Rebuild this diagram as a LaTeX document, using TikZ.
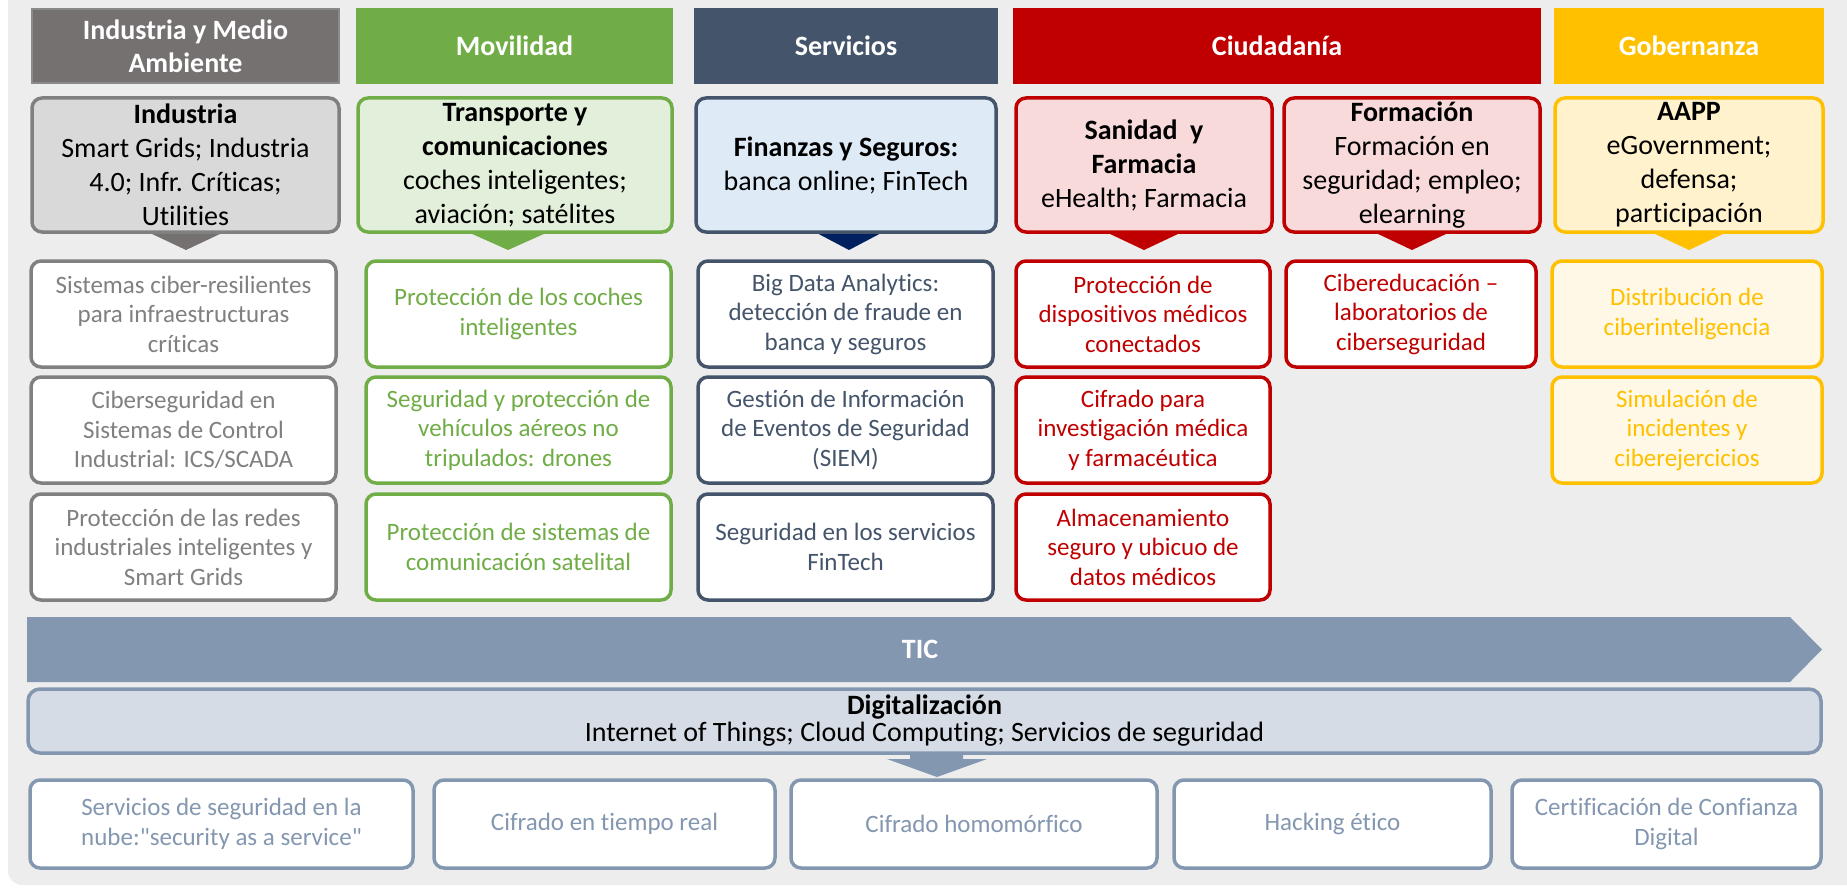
\documentclass[tikz,border=0pt]{standalone}
\usepackage{fontspec}
\setmainfont{Carlito}[Ligatures={TeXOff,CommonOff}]
\usetikzlibrary{calc}
\definecolor{bgc}{HTML}{EDEDED}
\definecolor{grayH}{HTML}{767171}
\definecolor{grayHb}{HTML}{8A8A8A}
\definecolor{grayC}{HTML}{D9D9D9}
\definecolor{grayL}{HTML}{808080}
\definecolor{greenH}{HTML}{70AD47}
\definecolor{greenC}{HTML}{E2EFDA}
\definecolor{blueH}{HTML}{44546A}
\definecolor{blueC}{HTML}{DEEBF7}
\definecolor{navyT}{HTML}{002060}
\definecolor{redH}{HTML}{C00000}
\definecolor{redC}{HTML}{F8DADA}
\definecolor{yelH}{HTML}{FFC000}
\definecolor{yelC}{HTML}{FFF2CC}
\definecolor{yelI}{HTML}{FFF8E6}
\definecolor{ticC}{HTML}{8497B0}
\definecolor{digiC}{HTML}{D6DCE5}
\newcommand\fhead{\fontsize{28}{33}\selectfont\bfseries}
\newcommand\fcat{\fontsize{28}{34}\selectfont}
\newcommand\fitem{\fontsize{25}{29.5}\selectfont}
\newcommand\fdig{\fontsize{28}{27}\selectfont}
\tikzset{
  hdr/.style 2 args={draw=#1, fill=#2, line width=2pt, text=white, font=\fhead,
    align=center, inner sep=0pt, minimum height=74pt},
  cat/.style 2 args={draw=#1, fill=#2, line width=3.5pt, rounded corners=10pt,
    font=\fcat, align=center, inner sep=0pt, minimum height=134pt},
  itm/.style 2 args={draw=#1, fill=#2, text=#1, line width=3.5pt, rounded corners=10pt,
    font=\fitem, align=center, inner sep=0pt, minimum height=106pt},
  bot/.style={draw=ticC, fill=white, text=ticC, line width=3.5pt, rounded corners=10pt,
    font=\fitem, align=center, inner sep=0pt, minimum height=88pt},
}
% pointer: #1 colour, #2 coordinate at box bottom, #3 visible half-width at box bottom
\newcommand\pointer[3]{\fill[#1] ($(#2)+({-1.45*#3},-8)$) -- ($(#2)+({1.45*#3},-8)$) -- ($(#2)+(0,18)$) -- cycle;}
\begin{document}
\begin{tikzpicture}[x=1pt,y=-1pt]
\useasboundingbox (0,0) rectangle (1847,888);
\fill[bgc, rounded corners=14pt] (8,-20) rectangle (1870,885);

% headers
\node[hdr={grayHb}{grayH}, minimum width=307pt] (h1) at (185.5,46) {Industria y Medio\\Ambiente};
\node[hdr={greenH}{greenH}, minimum width=315pt] (h2) at (514.5,46) {Movilidad};
\node[hdr={blueH}{blueH}, minimum width=302pt] (h3) at (846,46) {Servicios};
\node[hdr={redH}{redH}, minimum width=526pt] (h4) at (1277,46) {Ciudadanía};
\node[hdr={yelH}{yelH}, minimum width=268pt] (h5) at (1689,46) {Gobernanza};

% category boxes (pointers first)
\coordinate (p1) at (186,232);
\coordinate (p2) at (508,232);
\coordinate (p3) at (849,232);
\coordinate (p4) at (1144,232);
\coordinate (p5) at (1412,232);
\coordinate (p6) at (1689,232);
\pointer{grayH}{p1}{38}
\pointer{greenH}{p2}{40}
\pointer{navyT}{p3}{34}
\pointer{redH}{p4}{38}
\pointer{redH}{p5}{38}
\pointer{yelH}{p6}{38}

\node[cat={grayL}{grayC}, minimum width=307pt] (c1) at (185.5,165)
  {\textbf{Industria}\\Smart Grids; Industria\\4.0; Infr. Críticas;\\Utilities};
\node[cat={greenH}{greenC}, minimum width=314pt] (c2) at (515,165)
  {\textbf{Transporte y}\\\textbf{comunicaciones}\\coches inteligentes;\\aviación; satélites};
\node[cat={blueH}{blueC}, minimum width=300pt] (c3) at (846,165)
  {\textbf{Finanzas y Seguros:}\\banca online; FinTech};
\node[cat={redH}{redC}, minimum width=256pt] (c4) at (1144,165)
  {\textbf{Sanidad\ \ y}\\\textbf{Farmacia}\\eHealth; Farmacia};
\node[cat={redH}{redC}, minimum width=256pt] (c5) at (1412,165)
  {\textbf{Formación}\\Formación en\\seguridad; empleo;\\elearning};
\node[cat={yelH}{yelC}, minimum width=268pt] (c6) at (1689,165)
  {\textbf{AAPP}\\eGovernment;\\defensa;\\participación};

% items column 1
\node[itm={grayL}{white}, minimum width=305pt] (i11) at (183.5,314) {Sistemas ciber-resilientes\\para infraestructuras\\críticas};
\node[itm={grayL}{white}, minimum width=305pt] (i12) at (183.5,430) {Ciberseguridad en\\Sistemas de Control\\Industrial: ICS/SCADA};
\node[itm={grayL}{white}, minimum width=305pt] (i13) at (183.5,547) {Protección de las redes\\industriales inteligentes y\\Smart Grids};
% column 2
\node[itm={greenH}{white}, minimum width=305pt] (i21) at (518.5,314) {Protección de los coches\\inteligentes};
\node[itm={greenH}{white}, minimum width=305pt] (i22) at (518.5,430) {Seguridad y protección de\\vehículos aéreos no\\tripulados: drones};
\node[itm={greenH}{white}, minimum width=305pt] (i23) at (518.5,547) {Protección de sistemas de\\comunicación satelital};
% column 3
\node[itm={blueH}{white}, minimum width=295pt] (i31) at (845.5,314) {Big Data Analytics:\\detección de fraude en\\banca y seguros};
\node[itm={blueH}{white}, minimum width=295pt] (i32) at (845.5,430) {Gestión de Información\\de Eventos de Seguridad\\(SIEM)};
\node[itm={blueH}{white}, minimum width=295pt] (i33) at (845.5,547) {Seguridad en los servicios\\FinTech};
% column 4
\node[itm={redH}{white}, minimum width=254pt] (i41) at (1143,314) {Protección de\\dispositivos médicos\\conectados};
\node[itm={redH}{white}, minimum width=254pt] (i42) at (1143,430) {Cifrado para\\investigación médica\\y farmacéutica};
\node[itm={redH}{white}, minimum width=254pt] (i43) at (1143,547) {Almacenamiento\\seguro y ubicuo de\\datos médicos};
% column 5
\node[itm={redH}{white}, minimum width=250pt] (i51) at (1411,314) {Cibereducación –\\laboratorios de\\ciberseguridad};
% column 6
\node[itm={yelH}{yelI}, minimum width=270pt] (i61) at (1687,314) {Distribución de\\ciberinteligencia};
\node[itm={yelH}{yelI}, minimum width=270pt] (i62) at (1687,430) {Simulación de\\incidentes y\\ciberejercicios};

% TIC arrow
\fill[ticC] (27,617) -- (1790,617) -- (1822,649.5) -- (1790,682) -- (27,682) -- cycle;
\node[font=\fhead, text=white] (tic) at (920,649.5) {TIC};

% down arrow below Digitalizacion
\fill[ticC] (910,745) -- (963,745) -- (963,759) -- (987,759) -- (937,777) -- (887,759) -- (910,759) -- cycle;
\node[draw=ticC, fill=digiC, line width=3.5pt, rounded corners=12pt, minimum width=1793pt,
  minimum height=64pt, inner sep=0pt, align=center, font=\fdig] (dig) at (924.5,721)
  {\textbf{Digitalización}\\Internet of Things; Cloud Computing; Servicios de seguridad};

% bottom boxes
\node[bot, minimum width=383pt] (b1) at (221.5,824) {Servicios de seguridad en la\\nube:"security as a service"};
\node[bot, minimum width=341pt] (b2) at (604.5,824) {Cifrado en tiempo real};
\node[bot, minimum width=366pt] (b3) at (974,824) {Cifrado homomórfico};
\node[bot, minimum width=317pt] (b4) at (1332.5,824) {Hacking ético};
\node[bot, minimum width=309pt] (b5) at (1666.5,824) {Certificación de Confianza\\Digital};
\end{tikzpicture}
\end{document}
